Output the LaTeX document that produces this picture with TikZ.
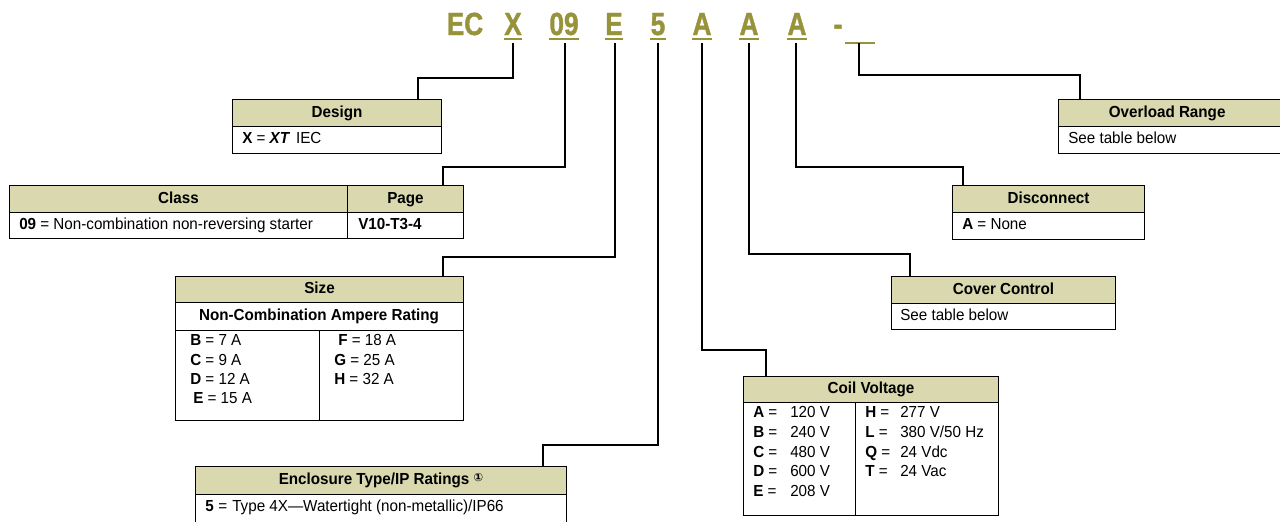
\documentclass[tikz,border=0pt]{standalone}
\usepackage{fontspec}
\setmainfont{Liberation Sans}[FakeStretch=0.95]
\newfontfamily\codefont{Liberation Sans}[FakeStretch=0.82,FakeBold=1.2]
\newfontfamily\symfont{DejaVu Sans}
\usetikzlibrary{calc}
\definecolor{hdrfill}{RGB}{217,216,174}
\definecolor{olive}{RGB}{151,147,59}
\newcommand\mkhead[6]{\node[hdr, minimum width={(#4-#2)*0.75pt}, minimum height={(#5-#3)*0.75pt}] (#1) at (#2,#3) {#6};}
\newcommand\mkbody[5]{\node[bodyb, minimum width={(#4-#2)*0.75pt}, minimum height={(#5-#3)*0.75pt}] (#1) at (#2,#3) {};}
\begin{document}
\begin{tikzpicture}[x=0.75pt,y=-0.75pt,
  hdr/.style={draw, line width=0.75pt, fill=hdrfill, inner sep=0, anchor=north west, text height=8.8pt, text depth=2.4pt, font=\bfseries\fontsize{12}{14}\selectfont},
  bodyb/.style={draw, line width=0.75pt, fill=white, inner sep=0, anchor=north west},
  txt/.style={anchor=west, inner sep=0, text height=8.8pt, text depth=2.4pt, font=\fontsize{12}{14}\selectfont},
  conn/.style={line width=1.5pt, line cap=rect},
  code/.style={anchor=base, inner sep=0, text=olive, font=\codefont\bfseries\fontsize{24}{26}\selectfont},
  ul/.style={olive, line width=1.6pt}]
\useasboundingbox (0,0) rectangle (1280,521);
% code letters
\node[code] (cEC) at (465,35) {EC};
\node[code] (cX) at (513,35) {X};
\node[code] (c09) at (564,35) {09};
\node[code] (cE) at (614,35) {E};
\node[code] (c5) at (658,35) {5};
\node[code] (cA1) at (702,35) {A};
\node[code] (cA2) at (749,35) {A};
\node[code] (cA3) at (797,35) {A};
\node[code] (cDash) at (838,35) {-};
\foreach \n in {cX,c09,cE,c5,cA1,cA2,cA3}{\draw[ul] (\n.west |- 0,39) -- (\n.east |- 0,39);}
\draw[ul] (845,43) -- (875,43);
% Design
\mkhead{design}{232}{99}{441}{126}{Design}
\mkbody{designb}{232}{126}{441}{153}
\node[txt] (designt) at (242,139) {{\bfseries X} = {\bfseries\itshape XT}\, IEC};
% Class / Page
\mkhead{class}{9}{185}{347}{212}{Class}
\mkhead{page}{347}{185}{463}{212}{Page}
\mkbody{classb}{9}{212}{347}{238}
\mkbody{pageb}{347}{212}{463}{238}
\node[txt] (classt) at (19,225) {{\bfseries 09} = Non-combination non-reversing starter};
\node[txt] (paget) at (358,225) {\bfseries V10-T3-4};
% Size
\mkhead{size}{175}{276}{463}{302}{Size}
\mkbody{sizesub}{175}{302}{463}{330}
\node[font=\bfseries\fontsize{12}{14}\selectfont, inner sep=0, text height=8.8pt, text depth=2.4pt] (sizesubt) at (319,316) {Non-Combination Ampere Rating};
\mkbody{sizel}{175}{330}{319}{420}
\mkbody{sizer}{319}{330}{463}{420}
\node[txt] (sB) at (190,341) {{\bfseries B} = 7 A};
\node[txt] (sC) at (190,361) {{\bfseries C} = 9 A};
\node[txt] (sD) at (190,380) {{\bfseries D} = 12 A};
\node[txt] (sE) at (193,399) {{\bfseries E} = 15 A};
\node[txt] (sF) at (338,341) {{\bfseries F} = 18 A};
\node[txt] (sG) at (334,361) {{\bfseries G} = 25 A};
\node[txt] (sH) at (334,380) {{\bfseries H} = 32 A};
% Enclosure
\mkhead{encl}{195}{466}{566}{494}{Enclosure Type/IP Ratings \raisebox{0.4ex}{\symfont\fontsize{8.5}{9}\selectfont ①}}
\mkbody{enclb}{195}{494}{566}{535}
\node[txt] (e5) at (205,507) {\bfseries 5};
\node[txt] (eeq) at (218,507) {=};
\node[txt] (et) at (232,507) {Type 4X---Watertight (non-metallic)/IP66};
% Coil Voltage
\mkhead{coil}{743}{376}{998}{402}{Coil Voltage}
\mkbody{coill}{743}{402}{855}{515}
\mkbody{coilr}{855}{402}{998}{515}
\foreach \l/\v/\y [count=\i] in {A/{120 V}/413,B/{240 V}/433,C/{480 V}/453,D/{600 V}/472,E/{208 V}/492}{
  \node[txt] (cvl\i) at (753,\y) {{\bfseries \l} =};
  \node[txt] (cvv\i) at (790,\y) {\v};}
\foreach \l/\v/\y [count=\i] in {H/{277 V}/413,L/{380 V/50 Hz}/433,Q/{24 Vdc}/453,T/{24 Vac}/472}{
  \node[txt] (cwl\i) at (865,\y) {{\bfseries \l} =};
  \node[txt] (cwv\i) at (900,\y) {\v};}
% Cover Control
\mkhead{cover}{891}{276}{1115}{303}{Cover Control}
\mkbody{coverb}{891}{303}{1115}{329}
\node[txt] (covert) at (900,316) {See table below};
% Disconnect
\mkhead{disc}{952}{185}{1144}{212}{Disconnect}
\mkbody{discb}{952}{212}{1144}{239}
\node[txt] (disct) at (962,225) {{\bfseries A} = None};
% Overload Range
\mkhead{over}{1058}{99}{1290}{126}{\hspace*{-11pt}Overload Range}
\mkbody{overb}{1058}{126}{1290}{153}
\node[txt] (overt) at (1068,139) {See table below};
% connectors
\coordinate (tX) at (513,44); \coordinate (bX) at (418,78);
\coordinate (t09) at (565,44); \coordinate (b09) at (443,167);
\coordinate (tE) at (615,44); \coordinate (bE) at (443,257);
\coordinate (t5) at (658,44); \coordinate (b5) at (543,445);
\coordinate (tA1) at (702,44); \coordinate (bA1) at (766,350);
\coordinate (tA2) at (749,44); \coordinate (bA2) at (910,254);
\coordinate (tA3) at (796,44); \coordinate (bA3) at (963,167);
\coordinate (tB) at (859,44); \coordinate (bB) at (1080,75);
\draw[conn] (tX) |- (bX) -- (bX |- design.north);
\draw[conn] (t09) |- (b09) -- (b09 |- page.north);
\draw[conn] (tE) |- (bE) -- (bE |- size.north);
\draw[conn] (t5) |- (b5) -- (b5 |- encl.north);
\draw[conn] (tA1) |- (bA1) -- (bA1 |- coil.north);
\draw[conn] (tA2) |- (bA2) -- (bA2 |- cover.north);
\draw[conn] (tA3) |- (bA3) -- (bA3 |- disc.north);
\draw[conn] (tB) |- (bB) -- (bB |- over.north);
\end{tikzpicture}
\end{document}
